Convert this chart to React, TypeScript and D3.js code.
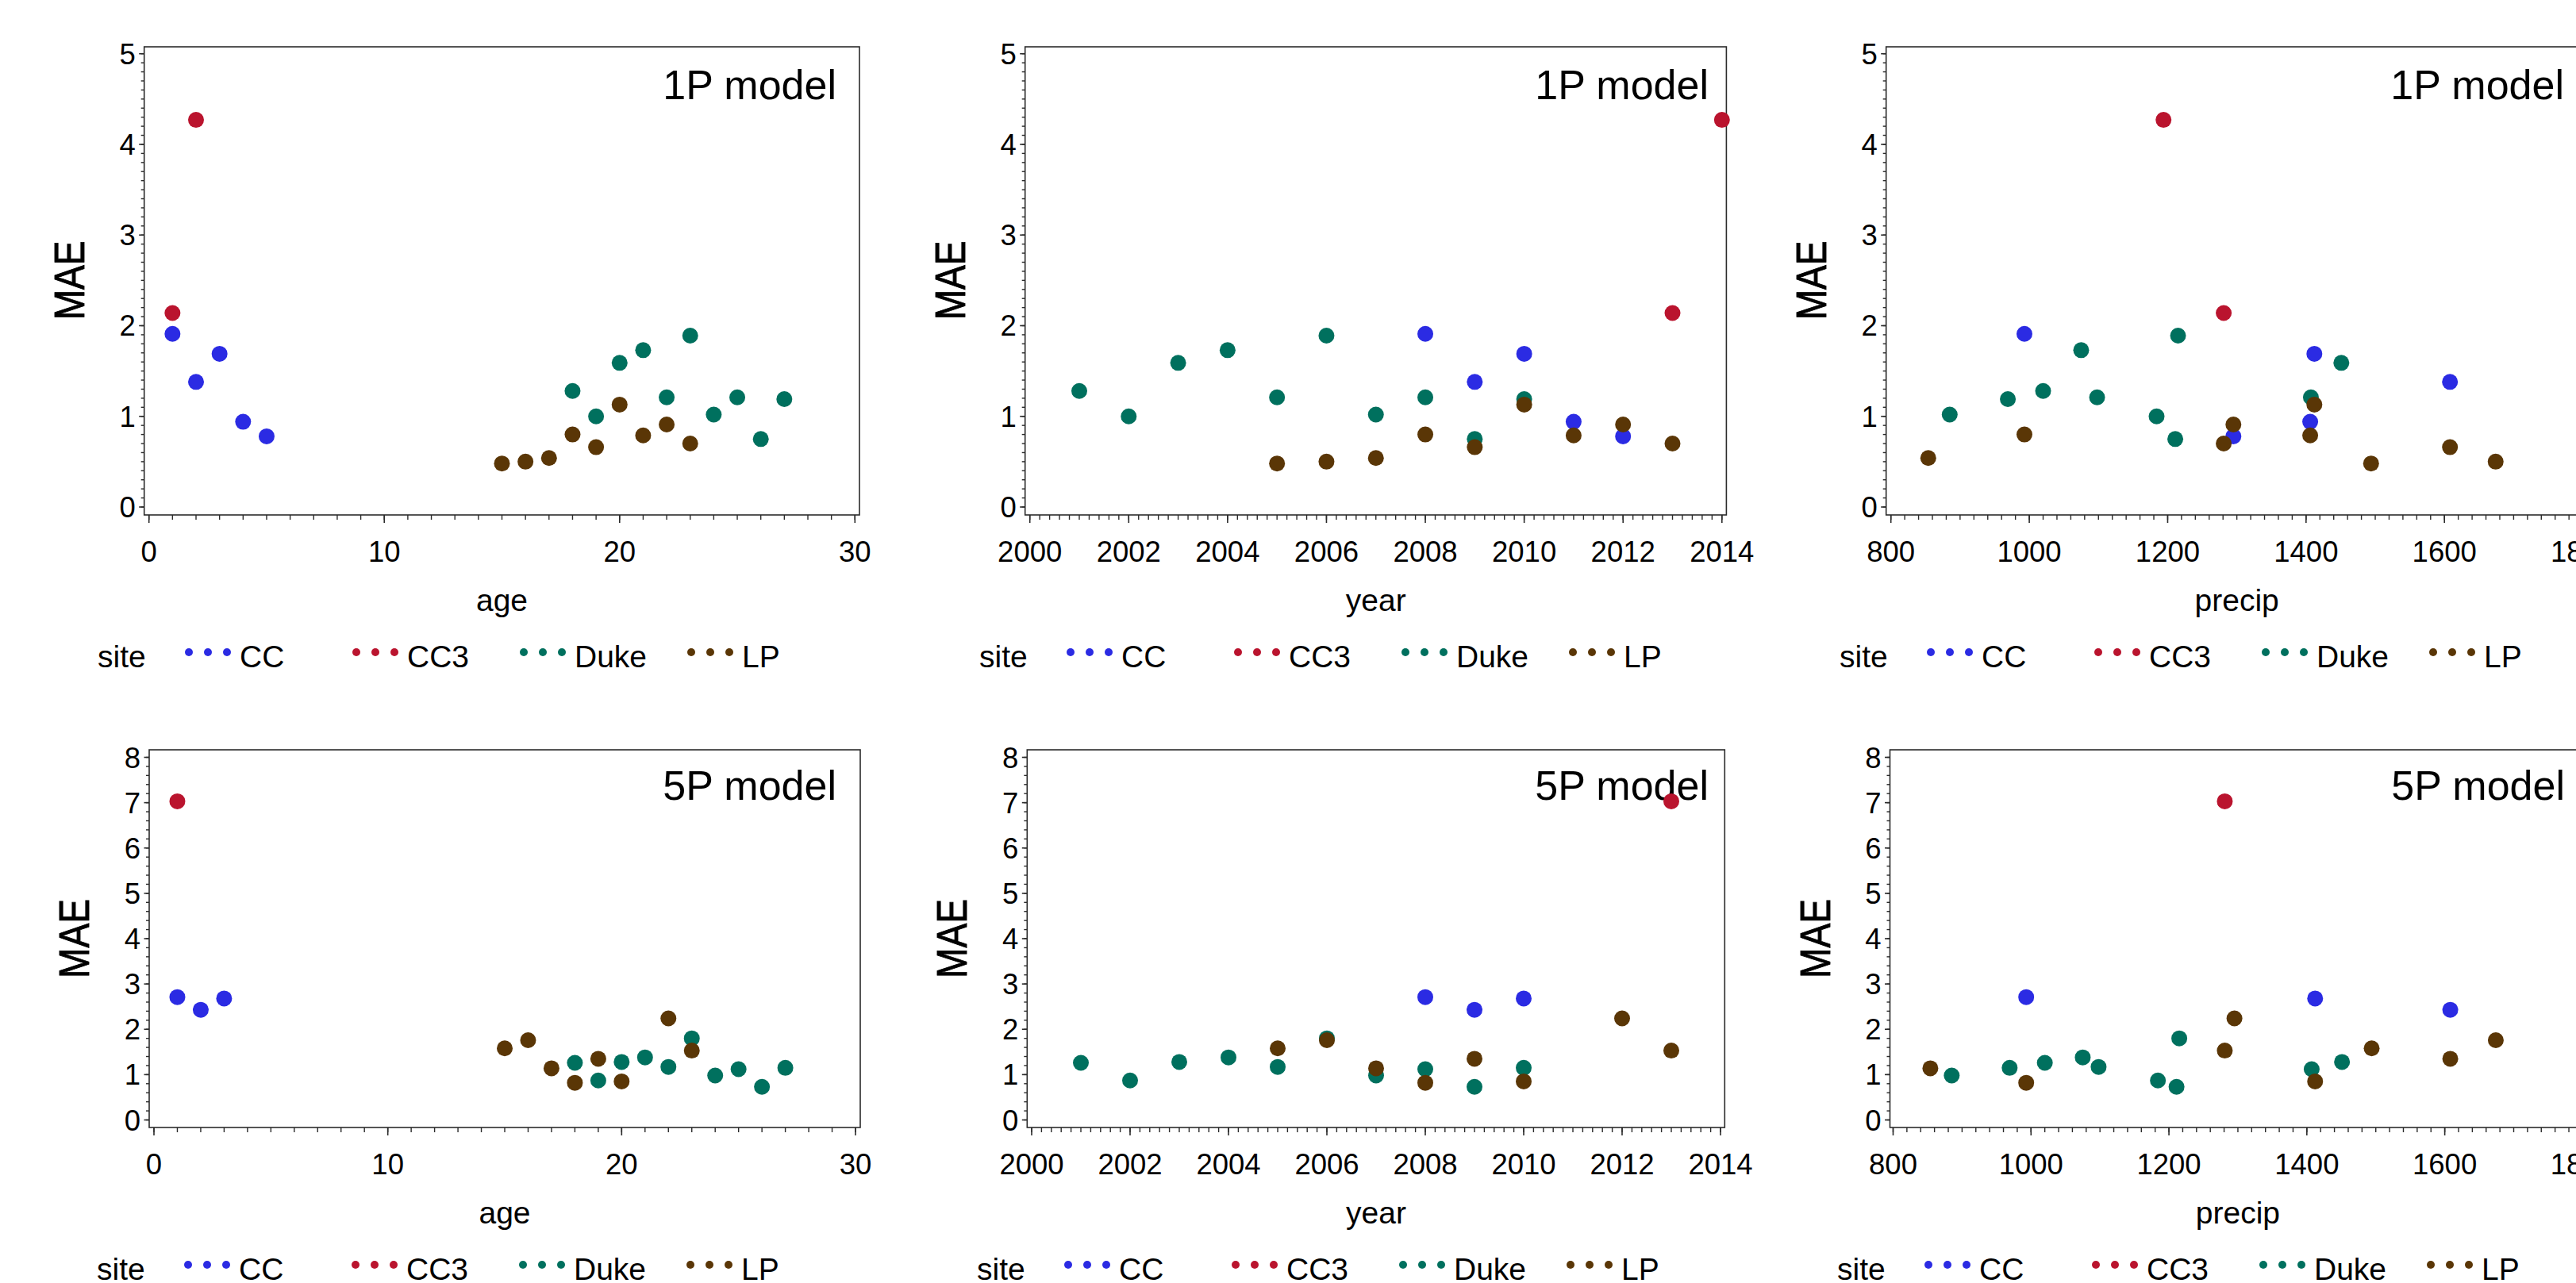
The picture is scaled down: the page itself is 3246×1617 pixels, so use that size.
import React from "react";
import * as d3 from "d3";

// ---------------- data ----------------
const sites = ["CC", "CC3", "Duke", "LP"];
const siteColors = ["#2b2be3", "#ba142e", "#00705e", "#5a3606"];

const ccYear = [2008, 2009, 2010, 2011, 2012];
const ccAge = [1, 2, 3, 4, 5];
const ccPrecip = [993, 1608, 1412, 1406, 1295];
const ccMae1P = [1.91, 1.38, 1.69, 0.94, 0.78];
const ccMae5P: (number | null)[] = [2.71, 2.43, 2.68, null, null];

const cc3Year = [2013, 2014];
const cc3Age = [1, 2];
const cc3Precip = [1281, 1194];
const cc3Mae1P = [2.14, 4.27];
const cc3Mae5P: (number | null)[] = [7.03, null];

const dukeYear = [2001, 2002, 2003, 2004, 2005, 2006, 2007, 2008, 2009, 2010];
const dukeAge = [18, 19, 20, 21, 22, 23, 24, 25, 26, 27];
const dukePrecip = [1020, 1184, 1451, 1075, 1098, 1215, 885, 1407, 1211, 969];
const dukeMae1P = [1.28, 1.0, 1.59, 1.73, 1.21, 1.89, 1.02, 1.21, 0.75, 1.19];
const dukeMae5P: (number | null)[] = [1.26, 0.87, 1.28, 1.38, 1.17, 1.8, 0.98, 1.12, 0.73, 1.15];

const lpYear = [2005, 2006, 2007, 2008, 2009, 2010, 2011, 2012, 2013];
const lpAge = [15, 16, 17, 18, 19, 20, 21, 22, 23];
const lpPrecip = [1494, 1674, 854, 993, 1608, 1412, 1406, 1295, 1281];
const lpMae1P = [0.48, 0.5, 0.54, 0.8, 0.66, 1.13, 0.79, 0.91, 0.7];
const lpMae5P: (number | null)[] = [1.58, 1.76, 1.14, 0.82, 1.35, 0.85, null, 2.24, 1.53];

const ageTicks = [0, 10, 20, 30];
const yearTicks = [2000, 2002, 2004, 2006, 2008, 2010, 2012, 2014];
const precipTicks = [800, 1000, 1200, 1400, 1600, 1800];
const mae1PTicks = [0, 1, 2, 3, 4, 5];
const mae5PTicks = [0, 1, 2, 3, 4, 5, 6, 7, 8];
const modelLabels = ["1P model", "5P model"];

// ---------------- build records ----------------
type Rec = { site: number; age: number; year: number; precip: number; m1: number | null; m5: number | null };
const siteSets = [
  [ccYear, ccAge, ccPrecip, ccMae1P, ccMae5P],
  [cc3Year, cc3Age, cc3Precip, cc3Mae1P, cc3Mae5P],
  [dukeYear, dukeAge, dukePrecip, dukeMae1P, dukeMae5P],
  [lpYear, lpAge, lpPrecip, lpMae1P, lpMae5P],
] as any[];
const records: Rec[] = [];
siteSets.forEach((s, si) => {
  s[0].forEach((yr: number, i: number) => {
    records.push({ site: si, year: yr, age: s[1][i], precip: s[2][i], m1: s[3][i], m5: s[4][i] });
  });
});

const FONT = "'Liberation Sans', Arial, Helvetica, sans-serif";

type XVar = { key: "age" | "year" | "precip"; label: string; domain: [number, number]; ticks: number[]; minor: number };
const xVars: XVar[] = [
  { key: "age", label: "age", domain: [0, 30], ticks: ageTicks, minor: 1 },
  { key: "year", label: "year", domain: [2000, 2014], ticks: yearTicks, minor: 0.2 },
  { key: "precip", label: "precip", domain: [800, 1800], ticks: precipTicks, minor: 20 },
];

// layout
const rowsLayout = [
  { boxTop: 59, boxBottom: 649, yPix: [639, 67.7], yMax: 5, ticks: mae1PTicks, minor: 0.1, key: "m1", modelBase: 125 },
  { boxTop: 945, boxBottom: 1421, yPix: [1411.5, 954.5], yMax: 8, ticks: mae5PTicks, minor: 0.2, key: "m5", modelBase: 1008 },
];
const colsLayout = [
  [
    { boxLeft: 181.7, boxRight: 1083, xPix: [187.7, 1077.3], modelEnd: 1054, legendX: 238 },
    { boxLeft: 1291.7, boxRight: 2175.4, xPix: [1297.7, 2169.8], modelEnd: 2153, legendX: 1349 },
    { boxLeft: 2376.7, boxRight: 3262, xPix: [2382.7, 3254.6], modelEnd: 3231, legendX: 2433 },
  ],
  [
    { boxLeft: 188, boxRight: 1084, xPix: [194, 1078], modelEnd: 1054, legendX: 237 },
    { boxLeft: 1294.3, boxRight: 2173.3, xPix: [1300, 2168], modelEnd: 2153, legendX: 1346 },
    { boxLeft: 2381.5, boxRight: 3262, xPix: [2385.5, 3254.4], modelEnd: 3232, legendX: 2430 },
  ],
];

const AXIS = "#2b2b2b";

function Panel({ r, c }: { r: number; c: number }) {
  const row = rowsLayout[r];
  const col = colsLayout[r][c];
  const xv = xVars[c];
  const x = d3.scaleLinear().domain(xv.domain).range(col.xPix as [number, number]);
  const y = d3.scaleLinear().domain([0, row.yMax]).range(row.yPix as [number, number]);
  const xMinor = d3.range(xv.domain[0], xv.domain[1] + xv.minor / 2, xv.minor);
  const yMinor = d3.range(0, row.yMax + row.minor / 2, row.minor);
  const pts = records.filter((d) => (d as any)[row.key] != null);
  const bb = row.boxBottom;
  return (
    <g>
      {/* frame */}
      <rect x={col.boxLeft} y={row.boxTop} width={col.boxRight - col.boxLeft} height={row.boxBottom - row.boxTop}
        fill="none" stroke={AXIS} strokeWidth={1.6} />
      {/* y minor ticks */}
      {yMinor.map((v, i) => (
        <line key={"ym" + i} x1={col.boxLeft - 4} x2={col.boxLeft} y1={y(v)} y2={y(v)} stroke={AXIS} strokeWidth={1.4} />
      ))}
      {row.ticks.map((v) => (
        <g key={"yt" + v}>
          <line x1={col.boxLeft - 6.5} x2={col.boxLeft} y1={y(v)} y2={y(v)} stroke={AXIS} strokeWidth={1.6} />
          <text x={col.boxLeft - 11} y={y(v) + 13} textAnchor="end" fontSize={36.5} fontFamily={FONT} fill="#000">{v}</text>
        </g>
      ))}
      {/* x minor ticks */}
      {xMinor.map((v, i) => (
        <line key={"xm" + i} x1={x(v)} x2={x(v)} y1={bb} y2={bb + 6} stroke={AXIS} strokeWidth={1.4} />
      ))}
      {xv.ticks.map((v) => (
        <g key={"xt" + v}>
          <line x1={x(v)} x2={x(v)} y1={bb} y2={bb + 10} stroke={AXIS} strokeWidth={1.6} />
          <text x={x(v)} y={bb + 59} textAnchor="middle" fontSize={36.5} fontFamily={FONT} fill="#000">{v}</text>
        </g>
      ))}
      {/* axis titles */}
      <text x={(col.xPix[0] + col.xPix[1]) / 2} y={bb + 121} textAnchor="middle" fontSize={39} fontFamily={FONT} fill="#000">{xv.label}</text>
      <text transform={`translate(${col.boxLeft - 95},${(row.yPix[0] + row.yPix[1]) / 2}) rotate(-90)`} x={0} y={19}
        textAnchor="middle" fontSize={54} fontFamily={FONT} fill="#000" stroke="#000" strokeWidth={0.9}
        textLength={100} lengthAdjust="spacingAndGlyphs">MAE</text>
      {/* model label */}
      <text x={col.modelEnd} y={row.modelBase} textAnchor="end" fontSize={52} fontFamily={FONT} fill="#000">{modelLabels[r]}</text>
      {/* points */}
      {pts.map((d, i) => (
        <circle key={"p" + i} cx={x((d as any)[xv.key])} cy={y((d as any)[row.key])} r={10} fill={siteColors[d.site]} />
      ))}
      {/* legend */}
      <text x={col.legendX - 115} y={bb + 192} fontSize={39} fontFamily={FONT} fill="#000">site</text>
      {sites.map((s, si) => {
        const gx = col.legendX + si * 211;
        return (
          <g key={s}>
            {[0, 1, 2].map((k) => (
              <circle key={k} cx={gx + k * 24} cy={bb + 173} r={5} fill={siteColors[si]} />
            ))}
            <text x={gx + 64} y={bb + 192} fontSize={39} fontFamily={FONT} fill="#000">{s}</text>
          </g>
        );
      })}
    </g>
  );
}

export default function App() {
  return (
    <svg width={3246} height={1617} style={{ position: "absolute", left: 0, top: 0, background: "#fff" }}>
      <rect x={0} y={0} width={3246} height={1617} fill="#fff" />
      {[0, 1].map((r) => [0, 1, 2].map((c) => <Panel key={r + "-" + c} r={r} c={c} />))}
    </svg>
  );
}
